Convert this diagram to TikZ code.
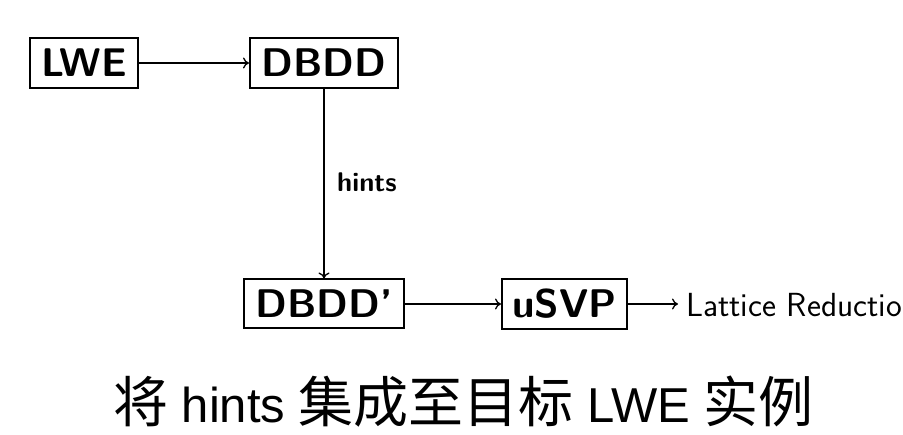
\documentclass[tikz,border=0pt]{standalone}
\usepackage{fontspec}
\newfontfamily\cjkfont{Noto Sans CJK SC}
\newfontfamily\libfont{Liberation Sans}
\usetikzlibrary{calc,arrows.meta}
\begin{document}
\begin{tikzpicture}[x=1pt,y=-1pt,
  boxnode/.style={draw, line width=2pt, inner sep=0pt, align=center,
    font=\sffamily\bfseries\fontsize{40}{40}\selectfont},
  conn/.style={line width=1.3pt, -{Computer Modern Rightarrow[length=6pt,width=11pt]}}]
\useasboundingbox (0,0) rectangle (903,435);
\node[boxnode, minimum width=108pt, minimum height=50pt] (lwe) at (84,63) {LWE};
\node[boxnode, minimum width=148pt, minimum height=50pt] (dbdd) at (324,63) {DBDD};
\node[boxnode, minimum width=160pt, minimum height=49pt] (dbddp) at (324,304) {DBDD'};
\node[boxnode, minimum width=125pt, minimum height=50pt] (usvp) at (564.5,304) {uSVP};
\node[anchor=base west, inner sep=0pt, font=\sffamily\fontsize{33.4}{33.4}\selectfont] (lr) at (686,317) {Lattice Reductio};
\node[anchor=base west, inner sep=0pt, font=\sffamily\bfseries\fontsize{27}{27}\selectfont] (hints) at (337,192) {hints};
\draw[conn] (lwe.east) -- (dbdd.west);
\draw[conn] (dbdd.south) -- (dbddp.north);
\draw[conn] (dbddp.east) -- (usvp.east -| usvp.west);
\draw[conn] (usvp.east) -- ([xshift=-8pt]lr.west |- usvp.east);
\node[anchor=base west, inner sep=0pt] (cap) at (113,423)
  {\cjkfont\fontsize{55}{55}\selectfont 将\libfont\fontsize{49}{49}\selectfont\ hints \cjkfont\fontsize{55}{55}\selectfont 集成至目标\libfont\fontsize{49}{49}\selectfont\ LWE \cjkfont\fontsize{55}{55}\selectfont 实例};
\end{tikzpicture}
\end{document}
